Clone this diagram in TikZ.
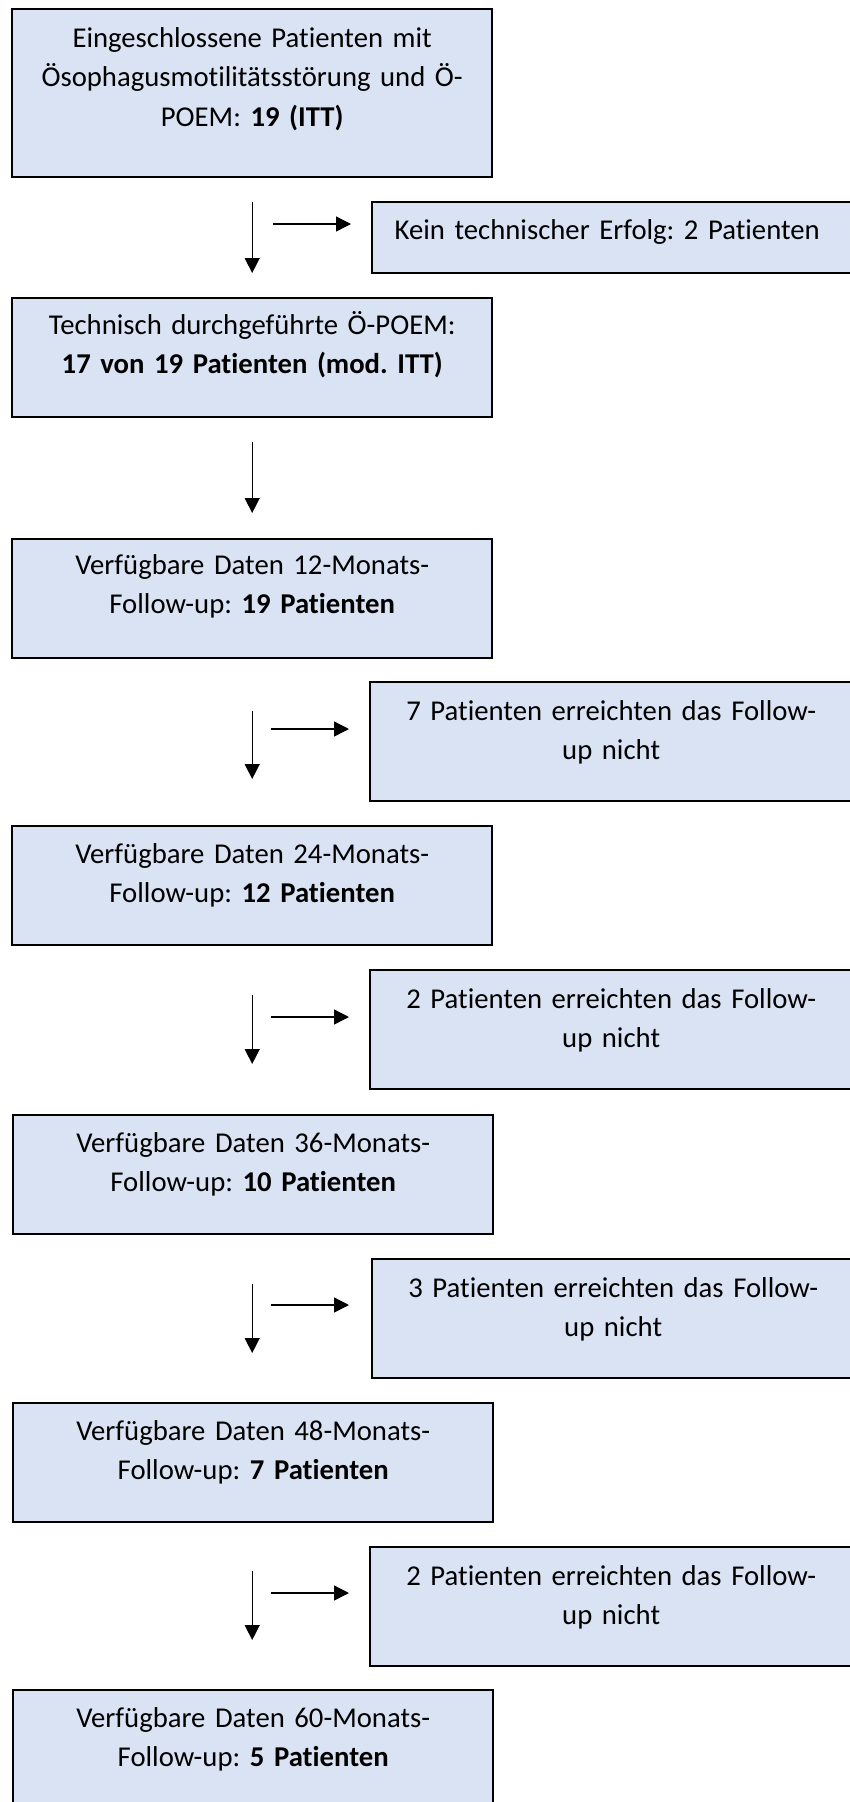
\documentclass[tikz,border=0pt]{standalone}
\usepackage{fontspec}
\setmainfont{Carlito}[Ligatures=NoCommon]
\usetikzlibrary{arrows.meta}
\definecolor{boxblue}{RGB}{218,227,243}
\frenchspacing

\begin{document}
\begin{tikzpicture}[x=1pt, y=-1pt,
    box/.style={draw, line width=2.4pt, fill=boxblue, anchor=north west, minimum width=480pt, minimum height=119pt, inner sep=0pt},
    txt/.style={text width=476pt, align=center, inner sep=0pt, anchor=base, font=\fontsize{28.7}{39.5}\selectfont},
    arr/.style={line width=1.4pt, -{Triangle[length=15pt, width=15pt]}}]
    \useasboundingbox (0,0) rectangle (849,1802);

    % Main boxes
    \node[box, minimum height=168pt] (B0) at (11,8) {};
    \node[box] (B1) at (11,297) {};
    \node[box] (B2) at (11,538) {};
    \node[box] (B3) at (11,825) {};
    \node[box] (B4) at (12,1114) {};
    \node[box] (B5) at (12,1402) {};
    \node[box] (B6) at (12,1689) {};

    % Side boxes (dropouts)
    \node[box, minimum width=482pt, minimum height=71pt] (S0) at (371,201) {};
    \node[box, minimum width=482pt] (S1) at (369,681) {};
    \node[box, minimum width=482pt] (S2) at (369,969) {};
    \node[box, minimum width=482pt] (S3) at (371,1258) {};
    \node[box, minimum width=482pt] (S4) at (369,1546) {};

    % Texts
    \node[txt] (T0) at ([yshift=-39pt]B0.north) {Eingeschlossene Patienten mit\\ Ösophagusmotilitätsstörung und Ö-\\ POEM: \textbf{19 (ITT)}};
    \node[txt] (T1) at ([yshift=-37pt]B1.north) {Technisch durchgeführte Ö-POEM:\\ \textbf{17 von 19 Patienten (mod. ITT)}};
    \node[txt] (T2) at ([yshift=-36pt]B2.north) {Verfügbare Daten 12-Monats-\\ Follow-up: \textbf{19 Patienten}};
    \node[txt] (T3) at ([yshift=-38pt]B3.north) {Verfügbare Daten 24-Monats-\\ Follow-up: \textbf{12 Patienten}};
    \node[txt] (T4) at ([yshift=-38pt]B4.north) {Verfügbare Daten 36-Monats-\\ Follow-up: \textbf{10 Patienten}};
    \node[txt] (T5) at ([yshift=-38pt]B5.north) {Verfügbare Daten 48-Monats-\\ Follow-up: \textbf{7 Patienten}};
    \node[txt] (T6) at ([yshift=-38pt]B6.north) {Verfügbare Daten 60-Monats-\\ Follow-up: \textbf{5 Patienten}};

    \node[txt] (U0) at ([xshift=-6pt, yshift=-38pt]S0.north) {Kein technischer Erfolg: 2 Patienten};
    \node[txt] (U1) at ([yshift=-39pt]S1.north) {7 Patienten erreichten das Follow-\\ up nicht};
    \node[txt] (U2) at ([yshift=-39pt]S2.north) {2 Patienten erreichten das Follow-\\ up nicht};
    \node[txt] (U3) at ([yshift=-39pt]S3.north) {3 Patienten erreichten das Follow-\\ up nicht};
    \node[txt] (U4) at ([yshift=-39pt]S4.north) {2 Patienten erreichten das Follow-\\ up nicht};

    % Arrows down
    \draw[arr] ([yshift=-24pt]B0.south) -- ([yshift=24pt]B1.north);
    \draw[arr] ([yshift=-24pt]B1.south) -- ([yshift=25pt]B2.north);
    \draw[arr] ([yshift=-52pt]B2.south) -- ([yshift=46pt]B3.north);
    \draw[arr] ([yshift=-49pt]B3.south) -- ([xshift=-1pt, yshift=50pt]B4.north);
    \draw[arr] ([xshift=-1pt, yshift=-49pt]B4.south) -- ([xshift=-1pt, yshift=49pt]B5.north);
    \draw[arr] ([xshift=-1pt, yshift=-48pt]B5.south) -- ([xshift=-1pt, yshift=49pt]B6.north);

    % Arrows right
    \draw[arr] ([xshift=-98pt, yshift=-23pt]S0.north west) -- ([xshift=-20pt, yshift=-23pt]S0.north west);
    \draw[arr] ([xshift=-98pt, yshift=-48pt]S1.north west) -- ([xshift=-20pt, yshift=-48pt]S1.north west);
    \draw[arr] ([xshift=-98pt, yshift=-48pt]S2.north west) -- ([xshift=-20pt, yshift=-48pt]S2.north west);
    \draw[arr] ([xshift=-100pt, yshift=-47pt]S3.north west) -- ([xshift=-22pt, yshift=-47pt]S3.north west);
    \draw[arr] ([xshift=-98pt, yshift=-47pt]S4.north west) -- ([xshift=-20pt, yshift=-47pt]S4.north west);
\end{tikzpicture}
\end{document}
